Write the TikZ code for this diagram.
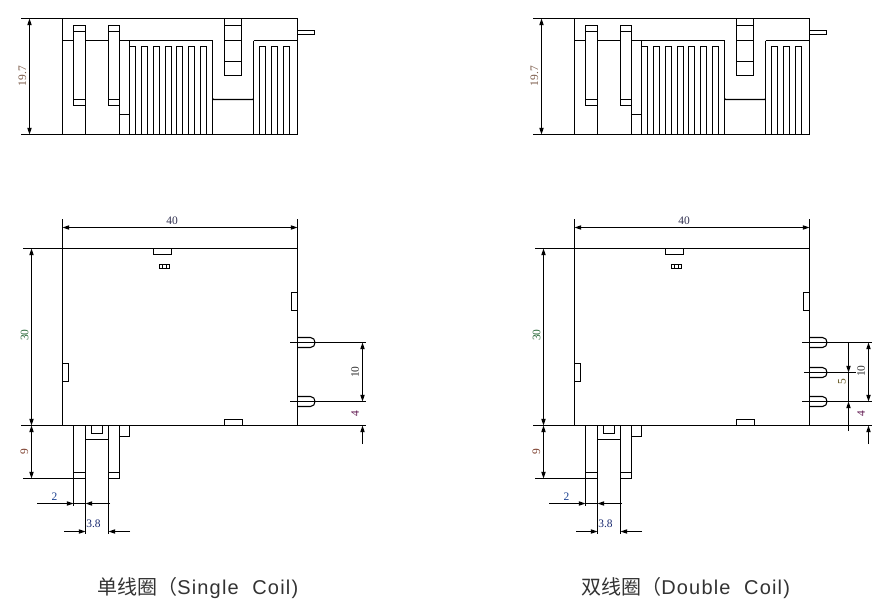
\documentclass[tikz,border=0pt]{standalone}
\usepackage{fontspec}
\setmainfont{Liberation Serif}
\newfontfamily\cjkf{Noto Sans CJK SC}
\newfontfamily\latf[LetterSpace=6,WordSpace=2]{Liberation Sans}
\usetikzlibrary{arrows.meta}
\definecolor{cA}{HTML}{7A5A48}
\definecolor{cB}{HTML}{2A6A3A}
\definecolor{cC}{HTML}{7A3A28}
\definecolor{cD}{HTML}{1A4090}
\definecolor{cE}{HTML}{1A2A70}
\definecolor{cF}{HTML}{303050}
\definecolor{cG}{HTML}{303030}
\definecolor{cH}{HTML}{601850}
\definecolor{cI}{HTML}{605018}
\tikzset{
  part/.style={draw=black,line width=0.8pt},
  dimline/.style={draw=black,line width=0.8pt},
  dimarrow/.style={dimline,-{Triangle[length=5pt,width=3.2pt]}},
  dimtext/.style={font=\fontsize{8.6}{9}\selectfont,inner sep=0pt},
  title/.style={font=\fontsize{15}{17}\selectfont,inner sep=0pt,anchor=west,text=black!80}
}
% U-shaped terminal centred on a given y
\newcommand{\upin}[1]{
  \draw[part] (297.5,#1-5) -- (310.5,#1-5) .. controls (316.5,#1-5) and (316.5,#1+5) .. (310.5,#1+5) -- (297.5,#1+5);
}
\newcommand{\relayviews}{
  % ---- top view ----
  \draw[part] (62.5,18.5) rectangle (297.5,134.5);
  \draw[dimline] (21,18.5) -- (62.5,18.5) (21,134.5) -- (62.5,134.5);
  \coordinate (ha) at (29.5,18.5); \coordinate (hb) at (29.5,134.5);
  \draw[dimarrow] (29.5,76) -- (ha);
  \draw[dimarrow] (29.5,76) -- (hb);
  \node[dimtext,rotate=90,text=cA] (th) at (22.5,76) {19.7};
  \draw[part] (62.5,40.5) -- (73.5,40.5) (85.5,40.5) -- (108.5,40.5) (119.5,40.5) -- (212.5,40.5) (253.5,40.5) -- (297.5,40.5);
  % coil pins
  \draw[part] (73.5,25.5) rectangle (85.5,105.5);
  \draw[part] (73.5,31.5) -- (85.5,31.5) (73.5,99.5) -- (85.5,99.5) (85.5,105.5) -- (85.5,134.5);
  \draw[part] (108.5,25.5) rectangle (119.5,105.5);
  \draw[part] (108.5,31.5) -- (119.5,31.5) (108.5,99.5) -- (119.5,99.5);
  \draw[part] (119.5,40.5) -- (119.5,134.5) (129.5,40.5) -- (129.5,134.5) (119.5,114.5) -- (129.5,114.5);
  % fins
  \foreach \a/\b in {129.5/135.5,141.5/147.5,153.5/159.5,165.5/171.5,176.5/182.5,188.5/194.5,200.5/206.5,259.5/265.5,271.5/277.5,283.5/289.5}{
    \draw[part] (\a,134.5) -- (\a,46.5) -- (\b,46.5) -- (\b,134.5);
  }
  \draw[part] (212.5,40.5) -- (212.5,134.5) (253.5,40.5) -- (253.5,134.5);
  % centre block
  \draw[part] (224.5,18.5) rectangle (241.5,75.5);
  \draw[part] (224.5,25.5) -- (241.5,25.5) (224.5,40.5) -- (241.5,40.5) (224.5,61.5) -- (241.5,61.5);
  \draw[part] (212.5,98.5) -- (213.5,99.5) -- (252.5,99.5) -- (253.5,98.5);
  % side tab
  \draw[part] (297.5,30.5) rectangle (314.5,34.5);
  % ---- front view ----
  \draw[part] (62.5,248.5) rectangle (297.5,425.5);
  \draw[dimline] (23,248.5) -- (62.5,248.5) (21,425.5) -- (62.5,425.5);
  \draw[dimline] (62.5,219) -- (62.5,248.5) (297.5,219) -- (297.5,248.5);
  \coordinate (wa) at (62.5,227.5); \coordinate (wb) at (297.5,227.5);
  \draw[dimarrow] (172,227.5) -- (wa);
  \draw[dimarrow] (172,227.5) -- (wb);
  \node[dimtext,text=cF] (tw) at (172,220.5) {40};
  \draw[part] (153.5,248.5) rectangle (171.5,254.5);
  \draw[part] (159.5,264.5) rectangle (169.5,268.5);
  \draw[part] (162.5,264.5) -- (162.5,268.5) (166.5,264.5) -- (166.5,268.5);
  \draw[part] (291.5,292.5) rectangle (297.5,310.5);
  \draw[part] (62.5,363.5) rectangle (68.5,381.5);
  \draw[part] (224.5,419.5) rectangle (242.5,425.5);
  % 30 and 9
  \coordinate (da) at (31.5,248.5); \coordinate (db) at (31.5,425.5); \coordinate (dc) at (31.5,478.5);
  \draw[dimarrow] (31.5,337) -- (da);
  \draw[dimarrow] (31.5,337) -- (db);
  \draw[dimarrow] (31.5,452) -- (db);
  \draw[dimarrow] (31.5,452) -- (dc);
  \node[dimtext,rotate=90,text=cB] (t30) at (24.5,335) {30};
  \node[dimtext,rotate=90,text=cC] (t9) at (24.5,452) {9};
  % lower pins
  \draw[part] (73.5,425.5) -- (73.5,506) (85.5,425.5) -- (85.5,534) (108.5,425.5) -- (108.5,534) (119.5,425.5) -- (119.5,478.5);
  \draw[part] (23,478.5) -- (85.5,478.5) (108.5,478.5) -- (119.5,478.5);
  \draw[part] (73.5,472.5) -- (85.5,472.5) (108.5,472.5) -- (119.5,472.5);
  \draw[part] (85.5,439.5) -- (108.5,439.5);
  \draw[part] (91.5,425.5) -- (91.5,433.5) -- (102.5,433.5) -- (102.5,425.5);
  \draw[part] (119.5,436.5) -- (129.5,436.5) -- (129.5,425.5);
  % 2 and 3.8
  \coordinate (pa) at (73.5,503.5); \coordinate (pb) at (85.5,503.5);
  \coordinate (qa) at (85.5,531.5); \coordinate (qb) at (108.5,531.5);
  \draw[dimarrow] (37,503.5) -- (pa);
  \draw[dimarrow] (110,503.5) -- (pb);
  \draw[dimline] (73.5,503.5) -- (85.5,503.5);
  \draw[dimarrow] (64,531.5) -- (qa);
  \draw[dimarrow] (130,531.5) -- (qb);
  \node[dimtext,text=cD] (t2) at (54.5,497) {2};
  \node[dimtext,text=cE] (t38) at (93.5,524) {3.8};
  % terminals
  \upin{342.5}
  \upin{401.5}
  \draw[dimline] (290,342.5) -- (297.5,342.5) (290,401.5) -- (297.5,401.5);
}
\begin{document}
\begin{tikzpicture}[x=0.75pt,y=-0.75pt]
\useasboundingbox (0,0) rectangle (889,611);
\fill[white] (0,0) rectangle (889,611);
% ===== single coil =====
\relayviews
\draw[dimline] (297.5,342.5) -- (366,342.5) (297.5,401.5) -- (366,401.5) (297.5,425.5) -- (366,425.5);
\coordinate (sa) at (362.5,342.5); \coordinate (sb) at (362.5,401.5); \coordinate (sc) at (362.5,425.5);
\draw[dimarrow] (362.5,372) -- (sa);
\draw[dimarrow] (362.5,372) -- (sb);
\draw[dimarrow] (362.5,444) -- (sc);
\node[dimtext,rotate=90,text=cG] (s10) at (355,372) {10};
\node[dimtext,rotate=90,text=cH] (s4) at (355,413.5) {4};
\node[title] (st) at (97,588) {{\cjkf 单线圈（}{\latf Single Coil}{\latf )}};
% ===== double coil =====
\begin{scope}[shift={(512,0)}]
\relayviews
\upin{372.5}
\draw[dimline] (292,372.5) -- (344,372.5);
\draw[dimline] (297.5,342.5) -- (360,342.5) (297.5,401.5) -- (360,401.5) (297.5,425.5) -- (360,425.5);
\coordinate (ua) at (336.5,372.5); \coordinate (ub) at (336.5,401.5);
\coordinate (va) at (356.5,342.5); \coordinate (vb) at (356.5,401.5); \coordinate (vc) at (356.5,425.5);
\draw[dimarrow] (336.5,342.5) -- (ua);
\draw[dimarrow] (336.5,431) -- (ub);
\draw[dimline] (336.5,372.5) -- (336.5,401.5);
\draw[dimarrow] (356.5,372) -- (va);
\draw[dimarrow] (356.5,372) -- (vb);
\draw[dimarrow] (356.5,444) -- (vc);
\node[dimtext,rotate=90,text=cI] (d5) at (330,382) {5};
\node[dimtext,rotate=90,text=cG] (d10) at (349,371) {10};
\node[dimtext,rotate=90,text=cH] (d4) at (349,413.5) {4};
\node[title] (dt) at (69,588) {{\cjkf 双线圈（}{\latf Double Coil}{\latf )}};
\end{scope}
\end{tikzpicture}
\end{document}
